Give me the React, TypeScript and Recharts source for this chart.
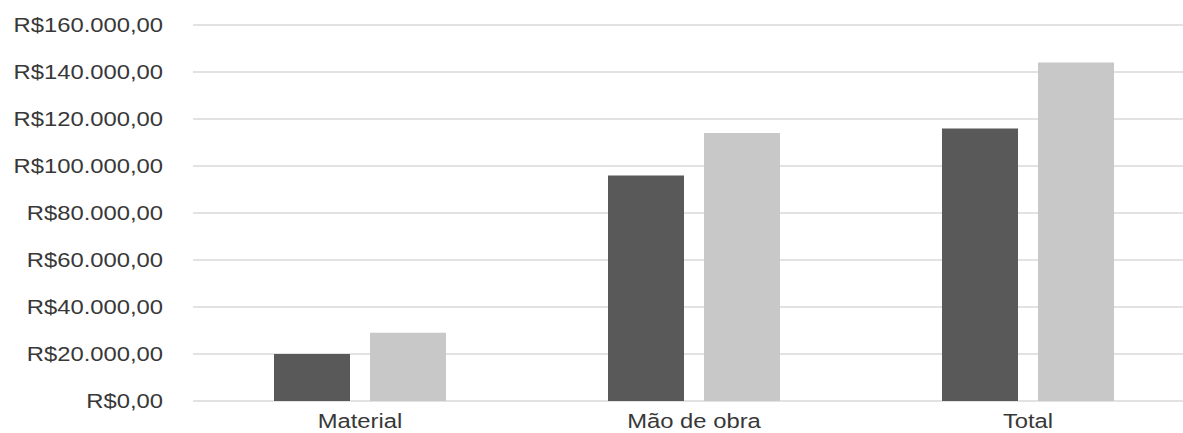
import { Bar, BarChart, CartesianGrid, XAxis, YAxis } from "recharts"

const categories = ["Material", "Mão de obra", "Total"]
const seriesA = [20000, 96000, 116000]
const seriesB = [29000, 114000, 144000]
const yTicks = [0, 20000, 40000, 60000, 80000, 100000, 120000, 140000, 160000]

const data = categories.map((name, i) => ({ name, a: seriesA[i], b: seriesB[i] }))

// "R$160.000,00" style
function formatBRL(value: number) {
  const [intPart, dec] = value.toFixed(2).split(".")
  const withDots = intPart.replace(/\B(?=(\d{3})+(?!\d))/g, ".")
  return `R$${withDots},${dec}`
}

const FONT = "'Liberation Sans', Arial, sans-serif"
const TEXT = "#383838"

function YTick(props: any) {
  const { x, y, payload } = props
  return (
    <text
      transform={`translate(${x},${y}) scale(1.19,1)`}
      textAnchor="end"
      dy="0.36em"
      fontSize={20}
      fontFamily={FONT}
      fill={TEXT}
    >
      {formatBRL(payload.value)}
    </text>
  )
}

function XTick(props: any) {
  const { x, y, payload } = props
  return (
    <text
      transform={`translate(${x},${y}) scale(1.19,1)`}
      textAnchor="middle"
      dy={27}
      fontSize={20}
      fontFamily={FONT}
      fill={TEXT}
    >
      {payload.value}
    </text>
  )
}

export default function App() {
  return (
    <div
      style={{
        position: "fixed",
        left: 0,
        top: 0,
        width: 1183,
        height: 433,
        overflow: "hidden",
        background: "#ffffff",
      }}
    >
      <BarChart
        width={1195}
        height={433}
        data={data}
        margin={{ top: 25, right: 0, bottom: 0, left: 0 }}
        barSize={76}
        barGap={20}
      >
        <CartesianGrid vertical={false} stroke="#d9d9d9" strokeWidth={1.5} />
        <XAxis
          dataKey="name"
          height={32}
          axisLine={false}
          tickLine={false}
          tickSize={0}
          tickMargin={0}
          tick={<XTick />}
          interval={0}
        />
        <YAxis
          width={193}
          domain={[0, 160000]}
          ticks={yTicks}
          axisLine={false}
          tickLine={false}
          tickSize={0}
          tickMargin={30}
          tick={<YTick />}
          interval={0}
        />
        <Bar dataKey="a" fill="#595959" isAnimationActive={false} />
        <Bar dataKey="b" fill="#c8c8c8" isAnimationActive={false} />
      </BarChart>
    </div>
  )
}
